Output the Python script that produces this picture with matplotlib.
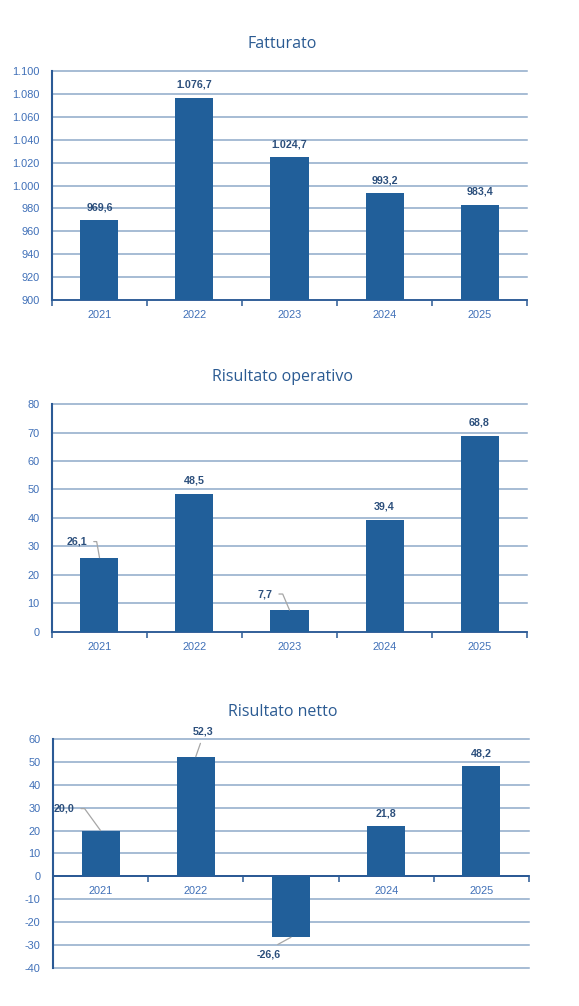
import matplotlib.pyplot as plt
import matplotlib.ticker as mticker

years = ["2021", "2022", "2023", "2024", "2025"]
fatturato = [969.6, 1076.7, 1024.7, 993.2, 983.4]
risultato_operativo = [26.1, 48.5, 7.7, 39.4, 68.8]
risultato_netto = [20.0, 52.3, -26.6, 21.8, 48.2]

BAR = "#215F9A"
GRID = "#8EA9C9"
AXIS = "#2B5A95"
TICK = "#4070B8"
TITLE = "#2A5A92"
LABEL = "#2C4F7C"
LEADER = "#A6A6A6"

plt.rcParams["font.family"] = ["Liberation Sans", "DejaVu Sans"]


def it_fmt(v, dec=0):
    s = f"{v:,.{dec}f}"
    return s.replace(",", "X").replace(".", ",").replace("X", ".")


def draw_chart(ax, values, ymin, ymax, step, title, baseline, leaders):
    ax.set_axisbelow(True)
    x = list(range(len(values)))
    ax.bar(x, [v - baseline for v in values], bottom=baseline, width=0.4,
           color=BAR, zorder=3)
    ax.set_xlim(-0.5, len(values) - 0.5)
    ax.set_ylim(ymin, ymax)
    ax.yaxis.set_major_locator(mticker.MultipleLocator(step))
    ax.yaxis.set_major_formatter(mticker.FuncFormatter(lambda v, p: it_fmt(v)))
    ax.grid(axis="y", color=GRID, linewidth=1.1)
    for gl in ax.get_ygridlines():
        gl.set_clip_on(False)
    ax.tick_params(axis="y", length=0, pad=9, labelsize=7.9, labelcolor=TICK)

    ax.set_xticks([i - 0.5 for i in range(len(values) + 1)])
    ax.set_xticklabels([])
    ax.tick_params(axis="x", direction="out", length=4, width=1.1, color=AXIS)

    for s in ["top", "right"]:
        ax.spines[s].set_visible(False)
    ax.spines["left"].set_color(AXIS)
    ax.spines["left"].set_linewidth(1.5)
    ax.spines["bottom"].set_color(AXIS)
    ax.spines["bottom"].set_linewidth(1.3)
    if baseline != ymin:
        ax.spines["bottom"].set_position(("data", baseline))

    for i, yr in enumerate(years):
        ax.annotate(yr, (i, baseline), xytext=(0, -15), textcoords="offset pixels",
                    ha="center", va="center", fontsize=7.9, color=TICK, zorder=2,
                    annotation_clip=False)

    for i, v in enumerate(values):
        txt = it_fmt(v, 1)
        if i in leaders:
            dx, dy, rel, conn = leaders[i]
            ax.annotate(txt, (i, v), xytext=(dx, dy), textcoords="offset pixels",
                        ha="center", va="center", fontsize=7.7, fontweight="bold",
                        color=LABEL, zorder=5, annotation_clip=False,
                        arrowprops=dict(arrowstyle="-", color=LEADER, lw=0.9,
                                        shrinkA=3, shrinkB=0, relpos=rel,
                                        connectionstyle=conn))
        else:
            ax.annotate(txt, (i, v), xytext=(0, 13), textcoords="offset pixels",
                        ha="center", va="center", fontsize=7.7, fontweight="bold",
                        color=LABEL, zorder=5, annotation_clip=False)

    ax.figure.text(0.488, ax.get_position().y1 + 0.027, title, ha="center",
                   va="center", fontsize=11.5, color=TITLE,
                   family=["Open Sans", "DejaVu Sans"])


fig = plt.figure(figsize=(5.79, 10.06), dpi=100)
ax1 = fig.add_axes([0.0898, 0.7018, 0.8204, 0.2276])
ax2 = fig.add_axes([0.0898, 0.3718, 0.8204, 0.2266])
ax3 = fig.add_axes([0.0915, 0.0378, 0.8221, 0.2276])

draw_chart(ax1, fatturato, 900, 1100, 20, "Fatturato", 900, {})
draw_chart(ax2, risultato_operativo, 0, 80, 10, "Risultato operativo", 0,
           {0: (-23, 16, (1, 0.5), "angle,angleA=0,angleB=100,rad=0"),
            2: (-25, 16, (1, 0.5), "angle,angleA=0,angleB=113,rad=0")})
draw_chart(ax3, risultato_netto, -40, 60, 10, "Risultato netto", 0,
           {0: (-37, 22, (1, 0.5), "angle,angleA=0,angleB=126,rad=0"),
            1: (7, 25, (0.5, 0), "arc3"),
            2: (-22, -17, (0.5, 1), "arc3")})
ax3.axhline(0, color=AXIS, linewidth=1.3, zorder=2)

fig.savefig("out.png", dpi=100)
